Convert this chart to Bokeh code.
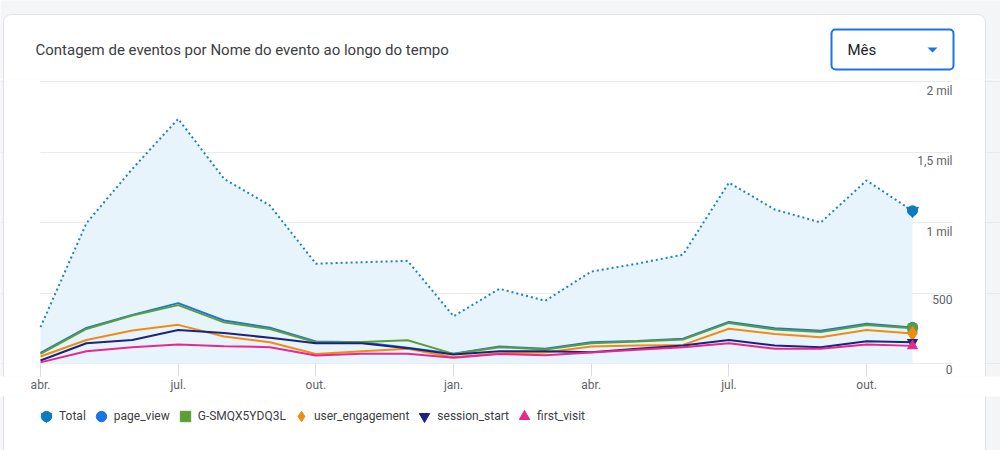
from bokeh.plotting import figure
from bokeh.layouts import column
from bokeh.models import (ColumnDataSource, FixedTicker, Range1d, Legend, LegendItem,
                          LabelSet, Label, BoxAnnotation, PolyAnnotation)
from bokeh.core.properties import value
from bokeh.embed import file_html
from bokeh.resources import INLINE

# months from abr. to nov. of the next year
months = list(range(20))
x_ticks = [0, 3, 6, 9, 12, 15, 18]
x_tick_labels = ["abr.", "jul.", "out.", "jan.", "abr.", "jul.", "out."]
y_ticks = [0, 500, 1000, 1500, 2000]
y_tick_labels = ["0", "500", "1 mil", "1,5 mil", "2 mil"]

total = [258, 995, 1380, 1735, 1310, 1120, 708, 718, 728, 335, 530, 445, 652, 708, 772, 1283, 1092, 1000, 1298, 1083]
page_view = [76, 252, 345, 428, 305, 253, 156, 150, 112, 70, 120, 104, 150, 160, 176, 294, 250, 232, 282, 256]
g_smqx = [68, 245, 340, 414, 292, 245, 151, 152, 165, 68, 116, 99, 144, 156, 170, 288, 241, 224, 273, 250]
user_engagement = [50, 167, 234, 274, 191, 151, 68, 87, 104, 45, 73, 78, 120, 127, 132, 246, 210, 186, 238, 212]
session_start = [21, 144, 167, 238, 217, 182, 144, 144, 109, 64, 87, 87, 80, 104, 127, 167, 127, 116, 158, 150]
first_visit = [8, 87, 116, 134, 123, 116, 57, 69, 69, 40, 68, 59, 78, 97, 116, 144, 104, 104, 134, 125]

FONT = "Roboto"
BG = "#f4f5f7"
CARD_LINE = "#e1e3e6"
STEP = 45.895  # pixels per month, first month sits 40px from the left


def px(x):
    # page pixel -> month axis units (only for decoration boxes)
    return (x - 40) / STEP


def card_box(**kw):
    return BoxAnnotation(fill_color="white", fill_alpha=1, line_color=CARD_LINE, line_alpha=1,
                         line_width=1, level="image", **kw)


# ---- header: title and period selector ----
head = figure(width=1000, height=79, output_backend="svg", toolbar_location=None,
              x_range=Range1d(0, 1000), y_range=Range1d(79, 0), min_border=0)
head.axis.visible = False
head.grid.visible = False
head.outline_line_color = None
head.background_fill_color = BG
head.border_fill_color = BG
head.add_layout(card_box(left=3, right=985, top=14, bottom=200, border_radius=8))
head.add_layout(Label(x=35, y=49, text="Contagem de eventos por Nome do evento ao longo do tempo",
                      text_baseline="middle", text_font=FONT, text_font_size="15px", text_color="#3c4043"))
head.add_layout(BoxAnnotation(left=831, right=953, top=29, bottom=69, fill_color="white", fill_alpha=1,
                              line_color="#1a73e8", line_alpha=1, line_width=2, border_radius=4))
head.add_layout(Label(x=847, y=49, text="Mês", text_baseline="middle", text_font=FONT,
                      text_font_size="15px", text_color="#202124"))
head.add_layout(PolyAnnotation(xs=[927, 937, 932], ys=[47, 47, 52], fill_color="#1a73e8", fill_alpha=1,
                               line_color=None))

# ---- chart ----
p = figure(width=1000, height=317, output_backend="svg", toolbar_location=None,
           x_range=Range1d(px(0), px(1000)), y_range=Range1d(-92.2, 2014.2),
           min_border_left=0, min_border_right=0, min_border_top=0, min_border_bottom=20)
p.outline_line_color = None
p.background_fill_color = BG
p.add_layout(card_box(left=px(3), right=px(985), top=1e5, bottom=-1e5))
p.xgrid.grid_line_color = None
p.ygrid.ticker = FixedTicker(ticks=y_ticks)
p.ygrid.grid_line_color = "#e8eaed"
p.yaxis.visible = False
# keep the grid lines between the first month and the value labels
p.add_layout(BoxAnnotation(left=px(4), right=months[0], fill_color="white", fill_alpha=1,
                           line_color=None, level="underlay"))
p.add_layout(BoxAnnotation(left=px(952), right=px(984), fill_color="white", fill_alpha=1,
                           line_color=None, level="underlay"))

ax = p.xaxis[0]
ax.ticker = FixedTicker(ticks=x_ticks)
ax.major_label_overrides = dict(zip(x_ticks, x_tick_labels))
ax.axis_line_color = None
ax.major_tick_line_color = "#dadce0"
ax.major_tick_in = 13
ax.major_tick_out = 0
ax.minor_tick_line_color = None
ax.major_label_standoff = 1
ax.major_label_text_font = FONT
ax.major_label_text_font_size = "12px"
ax.major_label_text_color = "#5f6368"

lab_src = ColumnDataSource(dict(x=[px(952)] * len(y_ticks), y=y_ticks, text=y_tick_labels))
p.add_layout(LabelSet(x="x", y="y", text="text", source=lab_src, text_align="right",
                      text_baseline="top", y_offset=-2, text_font=value(FONT),
                      text_font_size="12px", text_color="#5f6368"))

src = ColumnDataSource(dict(x=months, total=total, page_view=page_view, g=g_smqx,
                            ue=user_engagement, ss=session_start, fv=first_visit))

p.varea(x="x", y1=0, y2="total", source=src, fill_color="#e8f4fc")
p.line("x", "total", source=src, line_color="#1f80c4", line_width=2, line_dash="2 3")

series = [
    ("page_view", "page_view", "#1a73e8", "circle", 10),
    ("G-SMQX5YDQ3L", "g", "#5c9e34", "square", 9),
    ("user_engagement", "ue", "#f08c14", "diamond", 14),
    ("session_start", "ss", "#1a237e", "inverted_triangle", 10),
    ("first_visit", "fv", "#e8288f", "triangle", 10),
]
for name, col, color, marker, size in series:
    p.line("x", col, source=src, line_color=color, line_width=2)

# end markers, shared with the legend strip
ends = [("Total", "total", "#0e7bc0", [("circle", 10), ("inverted_triangle", 12)])]
ends += [(name, col, color, [(marker, size)]) for name, col, color, marker, size in series]

leg = figure(width=1000, height=54, output_backend="svg", toolbar_location=None,
             x_range=Range1d(0, 1000), y_range=Range1d(0, 54), min_border=0)
leg.axis.visible = False
leg.grid.visible = False
leg.outline_line_color = None
leg.background_fill_color = BG
leg.border_fill_color = BG
leg.add_layout(card_box(left=3, right=985, top=1e5, bottom=-1e5))

items = []
for name, col, color, shapes in ends:
    end = ColumnDataSource(dict(x=[months[-1]], y=[src.data[col][-1]]))
    rs = []
    for m, s in shapes:
        p.scatter("x", "y", source=end, marker=m, size=s, color=color)
        # same point in the legend strip lies outside its view, only the legend swatch shows
        rs.append(leg.scatter("x", "y", source=end, marker=m, size=s, color=color))
    items.append(LegendItem(label=name, renderers=rs))

legend = Legend(items=items, orientation="horizontal", location=(33, 21),
                glyph_width=26, glyph_height=26, label_standoff=0, spacing=2,
                padding=0, margin=0, border_line_color=None, background_fill_alpha=0,
                label_text_font=FONT, label_text_font_size="12px", label_text_color="#3c4043")
leg.add_layout(legend)

page = column(head, p, leg, spacing=0)
open("out.html", "w").write(file_html(page, INLINE))
